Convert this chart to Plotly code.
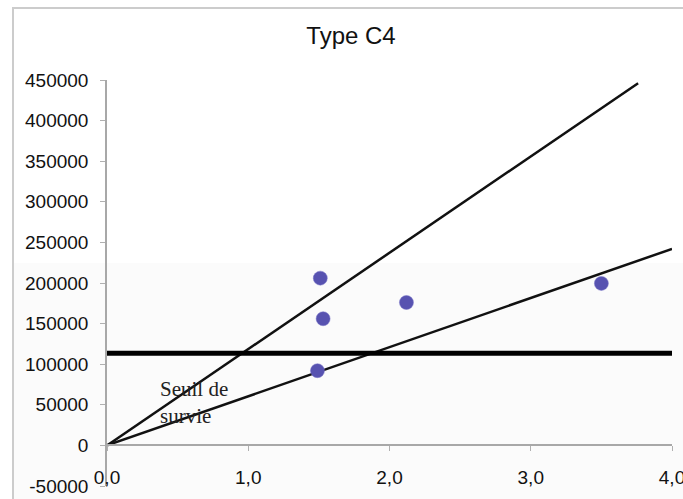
import plotly.graph_objects as go

# Observed farms: x = ratio, y = revenue
farm_x = [1.51, 1.53, 1.49, 2.12, 3.50]
farm_y = [206000, 156000, 92000, 176000, 199500]

# Upper and lower reference lines through the origin
upper_x = [0.0, 3.76]
upper_y = [0, 446000]
lower_x = [0.0, 4.0]
lower_y = [0, 242000]

# Survival threshold
seuil_x = [0.0, 4.0]
seuil_y = [113500, 113500]

# Axis ticks and labels
x_ticks = [0, 1, 2, 3, 4]
x_labels = ["0,0", "1,0", "2,0", "3,0", "4,0"]
y_ticks = [-50000, 0, 50000, 100000, 150000, 200000, 250000, 300000, 350000, 400000, 450000]
y_labels = ["-50000", "0", "50000", "100000", "150000", "200000", "250000",
            "300000", "350000", "400000", "450000"]

fig = go.Figure()

fig.add_trace(go.Scatter(x=upper_x, y=upper_y, mode="lines",
                         line=dict(color="#111111", width=2.5), showlegend=False))
fig.add_trace(go.Scatter(x=lower_x, y=lower_y, mode="lines",
                         line=dict(color="#111111", width=2.5), showlegend=False))
fig.add_trace(go.Scatter(x=seuil_x, y=seuil_y, mode="lines",
                         line=dict(color="#000000", width=5), showlegend=False))
fig.add_trace(go.Scatter(x=farm_x, y=farm_y, mode="markers",
                         marker=dict(color="#5752b0", size=14,
                                     line=dict(color="rgba(120,115,200,0.5)", width=1)),
                         showlegend=False))

fig.add_annotation(x=0.36, y=53000, xref="x", yref="y",
                   text="Seuil de<br>survie", showarrow=False,
                   xanchor="left", yanchor="middle", align="left",
                   font=dict(family="Liberation Serif", size=21, color="#222222"))

# Chart frame and faint background band
fig.add_shape(type="rect", xref="paper", yref="paper",
              x0=(14 - 107) / 565, x1=(700 - 107) / 565,
              y0=(486 - 263) / 406, y1=(486 - 520) / 406,
              fillcolor="#fbfbfb", line=dict(width=0), layer="below")
fig.add_shape(type="rect", xref="paper", yref="paper",
              x0=(13 - 107) / 565, x1=(700 - 107) / 565,
              y0=(486 - 8) / 406, y1=(486 - 520) / 406,
              fillcolor="rgba(0,0,0,0)", line=dict(color="#cccccc", width=2),
              layer="below")

fig.update_layout(
    width=683, height=499,
    margin=dict(l=107, r=11, t=80, b=13, autoexpand=False),
    paper_bgcolor="white",
    plot_bgcolor="rgba(0,0,0,0)",
    font=dict(family="Liberation Sans", color="#111111"),
    title=dict(text="Type C4", x=351 / 683, xref="container", xanchor="center",
               y=1 - 36 / 499, yref="container", yanchor="middle",
               font=dict(family="Liberation Sans", size=24, color="#111111")),
    xaxis=dict(range=[0, 4], tickvals=x_ticks, ticktext=x_labels,
               showgrid=False, zeroline=False, showline=True,
               linecolor="#a8a8a8", linewidth=1.5,
               ticks="outside", ticklen=5, tickcolor="#b0b0b0",
               anchor="free", position=0.1,
               ticklabelstandoff=10, ticklabeloverflow="allow",
               tickfont=dict(size=19, color="#111111"),
               automargin=False),
    yaxis=dict(range=[-50000, 450000], tickvals=y_ticks, ticktext=y_labels,
               showgrid=False, zeroline=False, showline=True,
               linecolor="#a8a8a8", linewidth=1.5,
               ticks="outside", ticklen=5, tickcolor="#b0b0b0",
               ticklabelstandoff=8,
               tickfont=dict(size=19, color="#111111"),
               automargin=False),
)

fig.write_html("out.html")
